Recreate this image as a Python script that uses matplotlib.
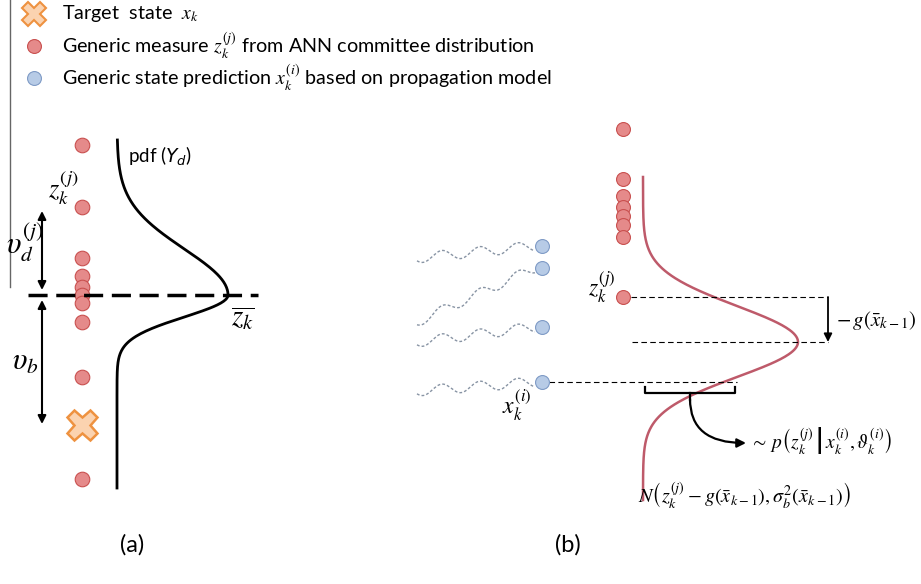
#!/usr/bin/env python3
"""Esquema (a) pdf de la medida del comité ANN y (b) verosimilitud de partículas."""
import matplotlib.pyplot as plt
import numpy as np

plt.rcParams.update({
    "font.family": ["Lato", "DejaVu Sans"],
    "mathtext.fontset": "stix",
})

RED_FACE, RED_EDGE = "#E58A8A", "#C9504F"
BLUE_FACE, BLUE_EDGE = "#B7CBE6", "#7F9BC6"
ORANGE_FACE, ORANGE_EDGE = "#FBD3B0", "#EE9240"
ROSE = "#BE5A6A"

# panel (a): committee measures (vertical positions, px from top)
a_dots_x = 82
a_dots_y = [145, 207, 258, 276, 287, 295, 303, 322, 377, 479]
a_target_y = 425
a_mean_y = 295
a_pdf_base, a_pdf_peak = 117, 228
a_pdf_sigma_up, a_pdf_sigma_down = 46, 22
a_pdf_span = (140, 488)

# panel (b)
b_dots_x = 623
b_dots_y = [129, 179, 196, 207, 216, 225, 237]
b_zk_y = 297
b_pred_x = 542
b_pred_y = [246, 268, 327, 382]
b_wave_start = [(417, 258), (417, 322), (417, 342), (417, 391)]
b_pdf_base, b_pdf_peak, b_pdf_mean = 643, 155, 342
b_pdf_sigma_up, b_pdf_sigma_down = 36, 35
b_pdf_span = (177, 500)


def skew_pdf(y, mu, s_up, s_down):
    s = np.where(y < mu, s_up, s_down)
    return np.exp(-(y - mu) ** 2 / (2 * s ** 2))


fig = plt.figure(figsize=(9.21, 5.84), dpi=100)
ax = fig.add_axes([0, 0, 1, 1])
ax.set_xlim(0, 921)
ax.set_ylim(584, 0)
ax.axis("off")

# legend block
ax.plot([10, 10], [0, 287], color="#666666", lw=1)
ax.plot(34, 14, marker="X", ms=17, mfc=ORANGE_FACE, mec=ORANGE_EDGE, mew=1.5)
ax.plot(34, 46, "o", ms=10, mfc=RED_FACE, mec=RED_EDGE, mew=0.8)
ax.plot(34, 78, "o", ms=10, mfc=BLUE_FACE, mec=BLUE_EDGE, mew=0.8)
leg_kw = dict(fontsize=14.2, va="center", ha="left")
ax.text(62, 14, r"Target  state  $x_k$", **leg_kw)
ax.text(62, 46, r"Generic measure $z_k^{(j)}$ from ANN committee distribution", **leg_kw)
ax.text(62, 78, r"Generic state prediction $x_k^{(i)}$ based on propagation model", **leg_kw)

# ---- panel (a)
ax.plot([a_dots_x] * len(a_dots_y), a_dots_y, "o", ls="none", ms=10.5,
        mfc=RED_FACE, mec=RED_EDGE, mew=0.8, zorder=3)
ax.plot(a_dots_x, a_target_y, marker="X", ms=22, mfc=ORANGE_FACE,
        mec=ORANGE_EDGE, mew=1.8, zorder=3)
ya = np.linspace(*a_pdf_span, 400)
xa = a_pdf_base + (a_pdf_peak - a_pdf_base) * skew_pdf(ya, a_mean_y, a_pdf_sigma_up, a_pdf_sigma_down)
ax.plot(xa, ya, color="black", lw=2)
ax.text(128, 156, r"pdf ($Y_d$)", fontsize=13.5, va="center", math_fontfamily="dejavusans")
ax.plot([28, 258], [a_mean_y, a_mean_y], color="black", lw=2.5, ls=(0, (5.5, 2.5)), zorder=4)
ax.text(231, 318, r"$\overline{z_k}$", fontsize=21, va="center")
arr = dict(arrowstyle="<|-|>", color="black", lw=1.5, mutation_scale=12, shrinkA=0, shrinkB=0)
ax.annotate("", xy=(42, 211), xytext=(42, 290), arrowprops=arr)
ax.annotate("", xy=(42, 300), xytext=(42, 424), arrowprops=arr)
ax.text(48, 188, r"$z_k^{(j)}$", fontsize=19, va="center")
ax.text(6, 243, r"$\upsilon_d^{(j)}$", fontsize=22, va="center")
ax.text(12, 362, r"$\upsilon_b$", fontsize=22, va="center")

# ---- panel (b)
ax.plot([b_dots_x] * len(b_dots_y), b_dots_y, "o", ls="none", ms=10,
        mfc=RED_FACE, mec=RED_EDGE, mew=0.8, zorder=3)
ax.plot(b_dots_x, b_zk_y, "o", ms=10, mfc=RED_FACE, mec=RED_EDGE, mew=0.8, zorder=3)
ax.text(588, 287, r"$z_k^{(j)}$", fontsize=17, va="center")

yb = np.linspace(*b_pdf_span, 400)
xb = b_pdf_base + b_pdf_peak * skew_pdf(yb, b_pdf_mean, b_pdf_sigma_up, b_pdf_sigma_down)
ax.plot(xb, yb, color=ROSE, lw=1.8)

for (x0, y0), y1 in zip(b_wave_start, b_pred_y):
    t = np.linspace(0, 1, 300)
    x1 = b_pred_x - 7
    xs = x0 + (x1 - x0) * t
    ys = y0 + (y1 - y0) * t + 5 * np.sin(2 * np.pi * (xs - x0) / 38 + 0.6)
    ax.plot(xs, ys, color="#8894A4", lw=1, ls=(0, (2, 1.5)))
ax.plot([b_pred_x] * len(b_pred_y), b_pred_y, "o", ls="none", ms=10,
        mfc=BLUE_FACE, mec=BLUE_EDGE, mew=0.8, zorder=3)
ax.text(502, 405, r"$x_k^{(i)}$", fontsize=17, va="center")

dash = dict(color="black", lw=0.8, ls=(0, (5, 3)))
ax.plot([631, 828], [b_zk_y, b_zk_y], **dash)
ax.plot([632, 828], [b_pdf_mean, b_pdf_mean], **dash)
ax.plot([549, 737], [b_pred_y[-1], b_pred_y[-1]], **dash)
ax.annotate("", xy=(828, b_pdf_mean), xytext=(828, b_zk_y),
            arrowprops=dict(arrowstyle="-|>", color="black", lw=1.3,
                            mutation_scale=12, shrinkA=0, shrinkB=0))
ax.text(836, 320, r"$-\,g\left(\bar{x}_{k-1}\right)$", fontsize=15, va="center")

ax.plot([645, 645, 735, 735], [387, 393, 393, 387], color="black", lw=1.6)
ax.plot([690, 690], [393, 400], color="black", lw=1.6)
ax.annotate("", xy=(746, 443), xytext=(690, 399),
            arrowprops=dict(arrowstyle="-|>", color="black", lw=1.6, mutation_scale=13,
                            shrinkA=0, shrinkB=0, connectionstyle="angle3,angleA=90,angleB=0"))
ax.text(750, 441, r"$\sim\, p\left(z_k^{(j)}\,\middle|\,x_k^{(i)},\vartheta_k^{(i)}\right)$",
        fontsize=14, va="center")
ax.text(638, 496, r"$N\left(z_k^{(j)} - g(\bar{x}_{k-1}),\sigma_b^2(\bar{x}_{k-1})\right)$",
        fontsize=14.5, va="center")

ax.text(132, 545, "(a)", fontsize=17, ha="center", va="center")
ax.text(568, 545, "(b)", fontsize=17, ha="center", va="center")

fig.savefig("out.png", dpi=100)
